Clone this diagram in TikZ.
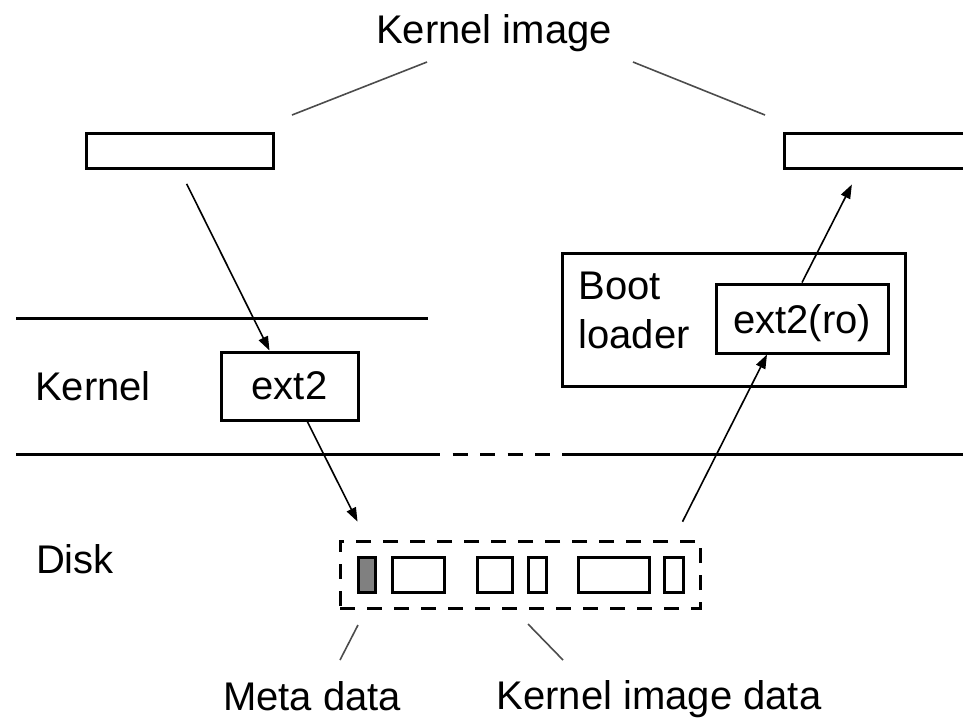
\documentclass[tikz,border=0pt]{standalone}
\usepackage{fontspec}
\setmainfont{Liberation Sans}
\usetikzlibrary{arrows.meta}

\tikzset{
	box/.style={draw, line width=1.5pt, inner sep=0pt, minimum height=17.5pt},
	blk/.style={draw, line width=1.5pt, inner sep=0pt, minimum height=17.5pt},
	lbl/.style={inner sep=0pt, anchor=base, font=\fontsize{20}{24.5}\selectfont},
	conn/.style={line width=0.8pt, -{Triangle[length=7pt,width=5pt]}},
	lead/.style={line width=0.8pt, black!70},
	layer/.style={line width=1.5pt}
}

\begin{document}
\begin{tikzpicture}[x=0.5pt, y=-0.5pt]
				\useasboundingbox (0,0) rectangle (963,720);
				
				\coordinate (L1a) at (16, 318);
				\coordinate (L1b) at (428, 318);
				\coordinate (L2a) at (16, 454);
				\coordinate (L2b) at (440, 454);
				\coordinate (L2c) at (562, 454);
				\coordinate (L2d) at (963, 454);
				
				\draw[layer] (L1a) -- (L1b);
				\draw[layer] (L2a) -- (L2b);
				\draw[layer, dash pattern=on 7.5pt off 6.25pt, dash phase=7.5pt] (L2b) -- (L2c);
				\draw[layer] (L2c) -- (L2d);
				
				\node[box, minimum width=93.5pt] (lbox) at (179.5, 150.5) {};
				\node[box, minimum width=93.5pt] (rbox) at (877.5, 150.5) {};
				
				\node[box, minimum width=68.5pt, minimum height=34pt, font=\fontsize{20}{24.5}\selectfont] (ext2) at (289.5, 386) {ext2};
				\node[box, minimum width=171.5pt, minimum height=66.5pt] (boot) at (733.5, 319.5) {};
				\node[box, minimum width=86pt, minimum height=34.5pt, text depth=0pt, font=\fontsize{20}{24.5}\selectfont] (ero) at (802, 318.5) {ext2(ro)};
				\node[lbl, anchor=north west, align=left] (bootlbl) at (578, 272) {Boot\\loader};
				
				\node[box, dash pattern=on 7.5pt off 6pt, minimum width=180pt, minimum height=33.5pt] (disk) at (520, 574.5) {};
				\node[blk, fill=black!50, minimum width=8.5pt] (meta) at (366.5, 574.5) {};
				\foreach \x/\w [count=\i] in {418/26pt, 494.5/17.5pt, 537/9pt, 613.5/35.5pt, 673.5/9.5pt}
					\node[blk, minimum width=\w] (blk\i) at (\x, 574.5) {};
				
				\draw[conn, shorten <=8pt] (lbox.south) -- ([xshift=25pt]ext2.north west);
				\draw[conn, shorten >=10pt] (ext2) -- (meta |- disk.north);
				\draw[conn, shorten <=10pt] (blk5 |- disk.north) -- ([xshift=-17.5pt]ero.south);
				\draw[conn, shorten >=8.4pt] (ero.north) -- ([xshift=-9pt]rbox.south);
				
				\node[lbl] (kimg) at (494, 43) {Kernel image};
				\node[lbl] (kern) at (93, 400) {Kernel};
				\node[lbl] (diskl) at (75, 573) {Disk};
				\node[lbl] (metal) at (312, 710) {Meta data};
				\node[lbl] (kdata) at (659, 709) {Kernel image data};
				
				\coordinate (KLa) at (292, 115);
				\coordinate (KLb) at (427, 62);
				\coordinate (KRa) at (633, 62);
				\coordinate (KRb) at (765, 115);
				\coordinate (MDa) at (358, 625);
				\coordinate (MDb) at (340, 660);
				\coordinate (KDa) at (528, 624);
				\coordinate (KDb) at (563, 660);
				
				\draw[lead] (KLa) -- (KLb);
				\draw[lead] (KRa) -- (KRb);
				\draw[lead] (MDa) -- (MDb);
				\draw[lead] (KDa) -- (KDb);
\end{tikzpicture}
\end{document}
